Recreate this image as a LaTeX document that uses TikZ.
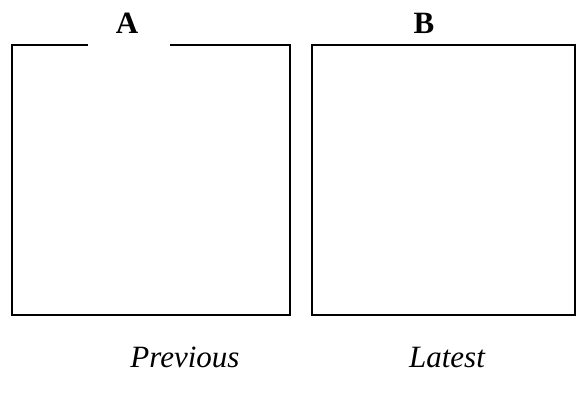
\documentclass[tikz,border=0pt]{standalone}
\usepackage{fontspec}
\setmainfont{Liberation Serif}
\begin{document}
\begin{tikzpicture}[x=1pt, y=1pt, line width=1.5pt]
    \useasboundingbox (0,0) rectangle (587,394);
    \tikzset{title/.style={anchor=base, font=\fontsize{31}{37}\selectfont\bfseries},
             caption/.style={anchor=base, font=\fontsize{31}{37}\selectfont\itshape}}

    % box A, open at the top
    \coordinate (gapL) at (88,349);
    \coordinate (gapR) at (170,349);
    \draw (gapL) -- (12,349) -- (12,79) -- (290,79) -- (290,349) -- (gapR);
    % box B
    \draw (312,79) rectangle (575,349);

    \node [title] (titleA) at (127,360) {A};
    \node [title] (titleB) at (424,360) {B};
    \node [caption] (prev) at (185,27) {Previous};
    \node [caption] (last) at (447,27) {Latest};
  \end{tikzpicture}
\end{document}
